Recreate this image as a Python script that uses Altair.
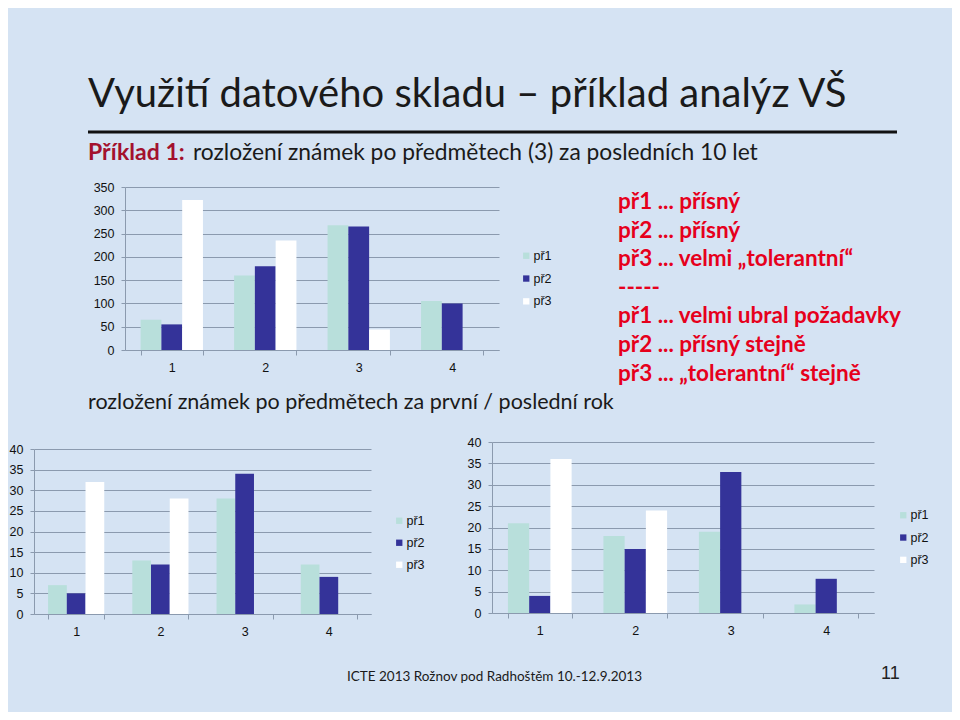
import altair as alt
import pandas as pd

# ---------------- data ----------------
CATEGORIES = ["1", "2", "3", "4"]
SERIES = ["př1", "př2", "př3"]
SERIES_COLORS = ["#b8dfdb", "#343399", "#ffffff"]

# top chart: last 10 years
TOP_PR1 = [65, 160, 268, 105]
TOP_PR2 = [55, 180, 265, 100]
TOP_PR3 = [322, 235, 44, 0]
TOP_TICKS = [0, 50, 100, 150, 200, 250, 300, 350]

# bottom left: first year
FIRST_PR1 = [7, 13, 28, 12]
FIRST_PR2 = [5, 12, 34, 9]
FIRST_PR3 = [32, 28, 0, 0]

# bottom right: last year
LAST_PR1 = [21, 18, 19, 2]
LAST_PR2 = [4, 15, 33, 8]
LAST_PR3 = [36, 24, 0, 0]
BOTTOM_TICKS = [0, 5, 10, 15, 20, 25, 30, 35, 40]

TITLE = "Využití datového skladu – příklad analýz VŠ"
SUB_BOLD = "Příklad 1:"
SUB_REST = "rozložení známek po předmětech (3) za posledních 10 let"
CAPTION = "rozložení známek po předmětech za první / poslední rok"
NOTES = [
    "př1 ... přísný",
    "př2 ... přísný",
    "př3 ... velmi „tolerantní“",
    "-----",
    "př1 ... velmi ubral požadavky",
    "př2 ... přísný stejně",
    "př3 ... „tolerantní“ stejně",
]
FOOTER = "ICTE 2013 Rožnov pod Radhoštěm 10.-12.9.2013"
PAGE = "11"

W, H = 944, 704
TEXT_FONT = "Lato"
AXIS_FONT = "Liberation Sans"
GRID = "#8b9aae"


def bar_layer(p1, p2, p3, ticks, x0, x1, ytop, ybot, lx, ly, rowpad):
    df = pd.DataFrame({
        "kat": CATEGORIES * 3,
        "serie": [s for s in SERIES for _ in CATEGORIES],
        "hodnota": p1 + p2 + p3,
    })
    return alt.Chart(df).mark_bar().encode(
        x=alt.X("kat:N", sort=CATEGORIES,
                scale=alt.Scale(range=[x0, x1], paddingInner=0.333, paddingOuter=0.167),
                axis=alt.Axis(title=None, orient="bottom", offset=ybot - H, labelAngle=0,
                              tickBand="extent", grid=False, tickSize=5, labelPadding=6)),
        xOffset=alt.XOffset("serie:N", sort=SERIES,
                            scale=alt.Scale(paddingInner=0, paddingOuter=0)),
        y=alt.Y("hodnota:Q",
                scale=alt.Scale(domain=[ticks[0], ticks[-1]], nice=False, range=[ybot, ytop]),
                axis=alt.Axis(title=None, orient="left", offset=-x0, values=ticks, grid=True,
                              tickSize=4, labelPadding=7)),
        color=alt.Color("serie:N", sort=SERIES,
                        scale=alt.Scale(domain=SERIES, range=SERIES_COLORS),
                        legend=alt.Legend(title=None, orient="none", legendX=lx, legendY=ly,
                                          symbolType="square", symbolSize=40,
                                          symbolStrokeWidth=0, rowPadding=rowpad,
                                          labelOffset=1,
                                          labelFont=AXIS_FONT, labelFontSize=12.5,
                                          labelColor="#111111", padding=0)),
    )


def txt(value, x, y, size, color="#1a1a1a", weight="normal", font=TEXT_FONT):
    return alt.Chart(pd.DataFrame({"t": [value]})).mark_text(
        align="left", baseline="alphabetic", font=font, fontSize=size, color=color,
        fontWeight=weight
    ).encode(x=alt.value(x), y=alt.value(y), text="t:N")


rule = alt.Chart(pd.DataFrame({"a": [0]})).mark_rule(color="#111111", strokeWidth=3).encode(
    x=alt.value(80), x2=alt.value(889), y=alt.value(124))

notes = alt.Chart(pd.DataFrame({"t": [NOTES]})).mark_text(
    align="left", baseline="alphabetic", font=TEXT_FONT, fontSize=22.5, fontWeight="bold",
    color="#e6001c", lineHeight=28.6
).encode(x=alt.value(610), y=alt.value(201), text="t")

top = bar_layer(TOP_PR1, TOP_PR2, TOP_PR3, TOP_TICKS, 117, 491, 179, 342, 512, 241.5, 9.8)
left = bar_layer(FIRST_PR1, FIRST_PR2, FIRST_PR3, BOTTOM_TICKS, 26, 363, 441, 606, 385, 506.5, 9)
right = bar_layer(LAST_PR1, LAST_PR2, LAST_PR3, BOTTOM_TICKS, 484, 866, 434, 605, 889, 501, 9.3)

chart = alt.layer(
    top, left, right,
    txt(TITLE, 80, 99, 40),
    rule,
    txt(SUB_BOLD, 80, 152, 23, color="#a3112e", weight="bold"),
    txt(SUB_REST, 185, 152, 22.8),
    txt(CAPTION, 80, 401, 21.5),
    notes,
    txt(FOOTER, 339, 673, 13.5),
    txt(PAGE, 873, 671, 18, font=AXIS_FONT, color="#222222"),
).resolve_scale(
    x="independent", y="independent", xOffset="independent", color="independent"
).resolve_axis(
    x="independent", y="independent"
).resolve_legend(
    color="independent"
).properties(width=W, height=H).configure(
    background="#d5e3f3", padding=0
).configure_view(stroke=None).configure_axis(
    labelFont=AXIS_FONT, labelFontSize=12.5, labelColor="#111111",
    domainColor=GRID, tickColor=GRID, gridColor=GRID, gridWidth=1, domainWidth=1
)

chart.save("out.html", embed_options={"renderer": "svg", "actions": False})
